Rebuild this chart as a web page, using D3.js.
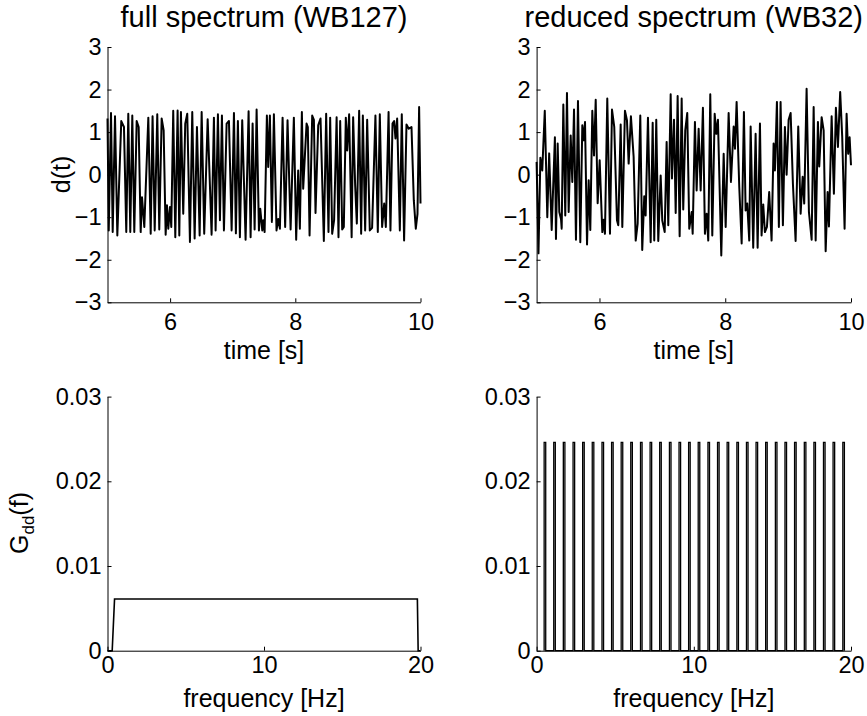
<!DOCTYPE html>
<html>
<head>
<meta charset="utf-8">
<script src="https://cdn.jsdelivr.net/npm/d3@7"></script>
<style>
  body { margin: 0; background: #fff; }
  text { font-family: "Liberation Sans", Arial, Helvetica, sans-serif; fill: #000; }
</style>
</head>
<body>
<div id="chart"></div>
<script>
// Data
const titles = ['full spectrum (WB127)', 'reduced spectrum (WB32)']

// full spectrum signal d(t), peaks and troughs
const tFull = [5.000, 5.020, 5.056, 5.083, 5.120, 5.157, 5.220, 5.263, 5.300, 5.332, 5.364, 5.396, 5.428, 5.466, 5.498, 5.530,
  5.551, 5.588, 5.652, 5.690, 5.720, 5.754, 5.795, 5.827, 5.865, 5.897, 5.929, 5.950, 5.971, 5.998, 6.019, 6.050,
  6.083, 6.120, 6.147, 6.173, 6.210, 6.242, 6.274, 6.317, 6.354, 6.392, 6.429, 6.472, 6.504, 6.545, 6.600, 6.663,
  6.700, 6.727, 6.764, 6.796, 6.828, 6.860, 6.903, 6.940, 6.983, 7.020, 7.051, 7.083, 7.115, 7.152, 7.206, 7.254,
  7.286, 7.318, 7.350, 7.382, 7.419, 7.440, 7.472, 7.488, 7.510, 7.546, 7.567, 7.594, 7.626, 7.658, 7.700, 7.727,
  7.754, 7.797, 7.838, 7.876, 7.925, 7.977, 8.014, 8.046, 8.073, 8.105, 8.126, 8.180, 8.200, 8.228, 8.270, 8.297,
  8.323, 8.366, 8.403, 8.456, 8.493, 8.530, 8.557, 8.589, 8.620, 8.660, 8.690, 8.717, 8.749, 8.775, 8.807, 8.829,
  8.860, 8.900, 8.924, 8.956, 8.983, 9.020, 9.052, 9.079, 9.116, 9.148, 9.190, 9.227, 9.280, 9.318, 9.350, 9.387,
  9.420, 9.446, 9.490, 9.520, 9.553, 9.579, 9.600, 9.627, 9.670, 9.701, 9.738, 9.776, 9.813, 9.856, 9.893, 9.925,
  9.952, 9.978, 10.000]
const dFull = [1.32, -1.31, 1.45, -1.35, 1.37, -1.43, 1.26, 1.12, -1.35, 1.43, -1.35, 1.39, -1.35, 1.26, 1.12, -1.35,
  -0.53, -1.23, 1.34, -1.39, 1.37, -1.31, 1.42, -1.29, 1.32, 1.04, -1.41, -0.72, -1.27, -0.76, -1.23, 1.50,
  -1.47, 1.51, -1.43, 1.47, -0.92, 1.20, 1.43, -1.58, 1.47, -1.50, 1.12, -1.43, 1.47, -1.39, 1.30, -1.41,
  1.34, -1.31, 1.42, -1.07, 1.39, -1.31, 1.20, 1.26, -1.31, 1.45, -1.38, 1.26, -1.47, 1.28, -1.53, 1.49,
  -1.47, 1.20, -1.29, 1.53, -1.31, -0.80, -1.31, -1.07, -1.35, 1.39, 0.18, 1.39, -1.11, 1.42, -1.31, -1.04,
  -1.27, 1.34, -1.23, 1.28, -1.29, 1.34, -1.53, 0.10, -1.27, 1.47, -0.33, 1.20, 1.12, -1.43, 1.39, 1.29,
  -0.90, 1.16, 1.32, -1.56, 1.43, -1.35, 1.34, -1.39, -1.07, 1.35, -1.47, 1.26, -1.29, -1.23, 1.34, 0.57,
  1.42, -1.47, 1.35, -0.25, -1.15, 1.50, -1.39, 1.39, -1.31, 1.29, -1.31, -1.25, 1.39, -1.35, 1.42, -1.23,
  -0.68, -1.23, 1.47, -1.31, 1.20, 1.26, 0.85, 1.32, -1.31, 1.42, -1.55, 1.18, 1.08, 1.12, -0.60, -1.27,
  -0.92, 1.59, -0.68]

// reduced spectrum signal d(t), peaks and troughs
const tRed = [5.000, 5.030, 5.060, 5.090, 5.130, 5.170, 5.200, 5.240, 5.291, 5.308, 5.335, 5.361, 5.388, 5.399, 5.425, 5.456,
  5.483, 5.510, 5.542, 5.568, 5.595, 5.626, 5.658, 5.695, 5.727, 5.749, 5.770, 5.802, 5.828, 5.854, 5.886, 5.913,
  5.940, 5.971, 6.003, 6.045, 6.067, 6.087, 6.124, 6.167, 6.199, 6.235, 6.278, 6.299, 6.337, 6.363, 6.405, 6.437,
  6.464, 6.500, 6.543, 6.576, 6.607, 6.649, 6.680, 6.712, 6.734, 6.771, 6.814, 6.846, 6.871, 6.903, 6.935, 6.973,
  6.999, 7.037, 7.068, 7.094, 7.132, 7.153, 7.185, 7.212, 7.243, 7.275, 7.307, 7.332, 7.364, 7.396, 7.428, 7.466,
  7.482, 7.518, 7.545, 7.577, 7.609, 7.645, 7.677, 7.704, 7.730, 7.762, 7.794, 7.832, 7.858, 7.884, 7.937, 7.975,
  8.007, 8.054, 8.091, 8.134, 8.155, 8.181, 8.223, 8.261, 8.297, 8.324, 8.350, 8.382, 8.404, 8.445, 8.483, 8.515,
  8.552, 8.578, 8.604, 8.631, 8.663, 8.699, 8.737, 8.769, 8.790, 8.822, 8.853, 8.880, 8.917, 8.949, 8.976, 9.008,
  9.040, 9.076, 9.119, 9.161, 9.199, 9.231, 9.256, 9.294, 9.331, 9.374, 9.406, 9.438, 9.474, 9.495, 9.533, 9.565,
  9.597, 9.628, 9.649, 9.692, 9.728, 9.760, 9.792, 9.828, 9.860, 9.898, 9.930, 9.955, 9.978, 10.000]
const dRed = [0.30, -1.85, 0.40, 0.10, 1.50, -1.00, 0.50, -1.30, 0.88, -1.51, 0.73, -0.88, -1.04, -1.27, 1.65, -0.96,
  1.92, -0.88, 0.92, -0.17, 1.53, -1.53, 1.73, -1.59, 1.16, 0.81, 1.24, -1.64, -0.13, -1.30, 1.50, 0.45,
  1.76, -0.67, 0.34, -1.35, -1.06, -1.39, 1.79, -1.39, 1.53, 1.12, -1.07, -1.19, 1.18, -1.23, 1.50, 1.28,
  0.26, 1.37, 0.42, -1.55, -1.15, 1.39, -1.77, -0.51, -0.96, 1.34, -1.59, 1.22, -1.55, 1.29, -1.56, -0.02,
  -1.08, -1.35, 0.77, -1.19, 1.89, -0.09, 1.29, -0.90, 1.85, -1.45, 1.79, -0.82, 1.04, 1.45, -1.27, -0.88,
  -1.39, 1.24, -0.37, 1.08, -0.37, 1.57, -1.39, -0.92, -1.55, 1.89, -1.43, 1.43, 0.96, 1.29, -1.90, 0.49,
  -1.23, 1.45, -0.17, 1.13, 0.61, 1.71, -0.29, -1.62, 1.47, -0.84, -0.68, -1.55, 1.13, -1.72, 0.96, -1.72,
  1.20, -1.43, -0.70, -1.35, -1.23, -0.41, -1.55, 0.73, 0.10, 1.71, -1.23, 1.71, -1.19, 1.12, 0.00, 1.29,
  1.45, -0.21, -1.56, 1.13, -0.92, -0.05, -0.68, 2.02, -0.88, -1.53, 1.59, -1.55, 1.24, 0.19, 1.35, 1.04,
  -1.80, -0.41, -1.22, 1.37, -0.45, 1.57, 0.65, 1.94, 0.90, -1.27, 1.43, 0.49, 0.88, 0.22]

// spectra G_dd(f)
const fFull = [0, 0.30, 0.45, 19.80, 19.85, 20]
const gFull = [0, 0, 0.0061, 0.0061, 0, 0]
const fRed = [0.53, 1.14, 1.75, 2.37, 2.98, 3.59, 4.21, 4.82, 5.43, 6.04, 6.66, 7.27, 7.88, 8.50, 9.11, 9.72,
  10.33, 10.95, 11.56, 12.17, 12.79, 13.40, 14.01, 14.62, 15.24, 15.85, 16.46, 17.08, 17.69, 18.30, 18.91, 19.53]
const gRed = [0.0246, 0.0246, 0.0246, 0.0246, 0.0246, 0.0246, 0.0246, 0.0246, 0.0246, 0.0246, 0.0246, 0.0246,
  0.0246, 0.0246, 0.0246, 0.0246, 0.0246, 0.0246, 0.0246, 0.0246, 0.0246, 0.0246, 0.0246, 0.0246, 0.0246, 0.0246,
  0.0246, 0.0246, 0.0246, 0.0246, 0.0246, 0.0246]

const timeTicks = [6, 8, 10]
const dTicks = [-3, -2, -1, 0, 1, 2, 3]
const freqTicks = [0, 10, 20]
const gTicks = [0, 0.01, 0.02, 0.03]

function draw() {
  // Dimensions
  const dimensions = { width: 867, height: 716 }
  const cols = [[107.5, 420.5], [536.6, 851]]
  const rowTop = [302.3, 47]
  const rowBottom = [650.7, 396.6]
  const spikeHalf = 0.05

  const svg = d3.select('#chart')
    .append('svg')
    .attr('width', dimensions.width)
    .attr('height', dimensions.height)

  const tickFont = 23.5
  const labelFont = 25
  const titleFont = 29

  function addAxes(xScale, yScale, xTicks, yTicks, yFmt, xPad) {
    const xAxis = d3.axisBottom(xScale).tickValues(xTicks).tickFormat(d3.format('d'))
      .tickSizeInner(-4).tickSizeOuter(0).tickPadding(xPad)
    const yAxis = d3.axisLeft(yScale).tickValues(yTicks).tickFormat(yFmt)
      .tickSizeInner(-4).tickSizeOuter(0).tickPadding(6)

    const gx = svg.append('g')
      .attr('transform', `translate(0, ${yScale.range()[0]})`)
      .call(xAxis)
    const gy = svg.append('g')
      .attr('transform', `translate(${xScale.range()[0]}, 0)`)
      .call(yAxis)

    ;[gx, gy].forEach(g => {
      g.attr('font-size', tickFont).attr('font-family', null)
      g.selectAll('path, line').attr('stroke', '#000').attr('stroke-width', 1)
    })
  }

  const fmtD = d3.format('d')
  const fmtG = d => d === 0 ? '0' : d3.format('.2f')(d)

  // Top row: time signals
  const series = [[tFull, dFull], [tRed, dRed]]
  series.forEach(([ts, ds], i) => {
    const xScale = d3.scaleLinear().domain([5, 10]).range(cols[i])
    const yScale = d3.scaleLinear().domain([-3, 3]).range(rowTop)

    const line = d3.line()
      .x((d, j) => xScale(ts[j]))
      .y(d => yScale(d))

    svg.append('path')
      .datum(ds)
      .attr('d', line)
      .attr('fill', 'none')
      .attr('stroke', '#000')
      .attr('stroke-width', 2)
      .attr('stroke-linejoin', 'round')

    addAxes(xScale, yScale, timeTicks, dTicks, fmtD, 11.5)

    svg.append('text')
      .attr('x', (cols[i][0] + cols[i][1]) / 2)
      .attr('y', 27)
      .attr('text-anchor', 'middle')
      .attr('font-size', titleFont)
      .text(titles[i])

    svg.append('text')
      .attr('x', (cols[i][0] + cols[i][1]) / 2)
      .attr('y', 358.5)
      .attr('text-anchor', 'middle')
      .attr('font-size', labelFont)
      .text('time [s]')
  })

  // Bottom row: spectra
  const spectra = [
    fFull.map((f, j) => [f, gFull[j]]),
    fRed.flatMap((f, j) => [[f - spikeHalf, 0], [f - spikeHalf, gRed[j]], [f + spikeHalf, gRed[j]], [f + spikeHalf, 0]])
  ]
  spectra.forEach((pts, i) => {
    const xScale = d3.scaleLinear().domain([0, 20]).range(cols[i])
    const yScale = d3.scaleLinear().domain([0, 0.03]).range(rowBottom)

    const line = d3.line()
      .x(d => xScale(d[0]))
      .y(d => yScale(d[1]))

    svg.append('path')
      .datum(pts)
      .attr('d', line)
      .attr('fill', 'none')
      .attr('stroke', '#000')
      .attr('stroke-width', i === 0 ? 1.6 : 1.3)

    addAxes(xScale, yScale, freqTicks, gTicks, fmtG, 6)

    svg.append('text')
      .attr('x', (cols[i][0] + cols[i][1]) / 2)
      .attr('y', 707)
      .attr('text-anchor', 'middle')
      .attr('font-size', labelFont)
      .text('frequency [Hz]')
  })

  // y labels
  svg.append('text')
    .attr('transform', 'translate(70, 174.5) rotate(-90)')
    .attr('text-anchor', 'middle')
    .attr('font-size', labelFont)
    .text('d(t)')

  const gLabel = svg.append('text')
    .attr('transform', 'translate(28, 523) rotate(-90)')
    .attr('text-anchor', 'middle')
    .attr('font-size', labelFont)
  gLabel.append('tspan').text('G')
  gLabel.append('tspan').attr('font-size', 17).attr('dy', 6).text('dd')
  gLabel.append('tspan').attr('dy', -6).text('(f)')
}

draw()
</script>
</body>
</html>
